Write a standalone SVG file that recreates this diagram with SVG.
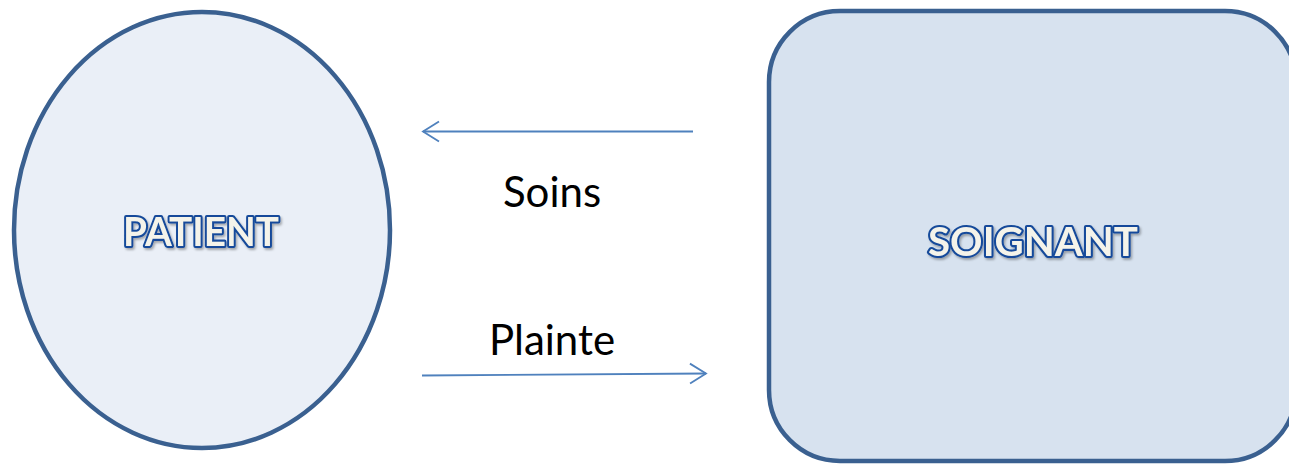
<svg xmlns="http://www.w3.org/2000/svg" width="1289" height="465" viewBox="0 0 1289 465">
<style>
.node{stroke:#3a6090;stroke-width:4.5}
.lbl{font-family:Lato,"Liberation Sans",sans-serif;font-weight:bold;font-size:41px;fill:#f4f3ea;stroke:#144a9a;stroke-width:4.2;paint-order:stroke;stroke-linejoin:round;text-anchor:middle;filter:url(#sh)}
.edge{fill:none;stroke:#4f81bd;stroke-width:1.8}
.elbl{font-family:Lato,"Liberation Sans",sans-serif;font-size:42px;fill:#000;text-anchor:middle}
</style>
<defs>
<filter id="sh" x="-10%" y="-20%" width="120%" height="150%">
<feDropShadow dx="1.5" dy="2" stdDeviation="1.2" flood-color="#000" flood-opacity="0.3"/>
</filter>
<marker id="open" viewBox="0 0 20 24" refX="18" refY="12" markerWidth="20" markerHeight="24" markerUnits="userSpaceOnUse" orient="auto">
<path d="M2,2 L18,12 L2,22" fill="none" stroke="#4f81bd" stroke-width="1.8"/>
</marker>
</defs>
<g id="patient">
<ellipse class="node" cx="202" cy="230" rx="188" ry="218" fill="#eaeff7"/>
<text class="lbl" x="201" y="246" textLength="156" lengthAdjust="spacingAndGlyphs">PATIENT</text>
</g>
<g id="soignant">
<rect class="node" x="769" y="11" width="527" height="450" rx="71" ry="71" fill="#d7e2ef"/>
<text class="lbl" x="1033" y="256" textLength="210" lengthAdjust="spacingAndGlyphs">SOIGNANT</text>
</g>
<g id="connectors">
<line class="edge" x1="693" y1="131.5" x2="423" y2="131.5" marker-end="url(#open)"/>
<line class="edge" x1="422" y1="375.5" x2="706" y2="373.5" marker-end="url(#open)"/>
<text class="elbl" x="552" y="207">Soins</text>
<text class="elbl" x="552" y="355">Plainte</text>
</g>
</svg>
